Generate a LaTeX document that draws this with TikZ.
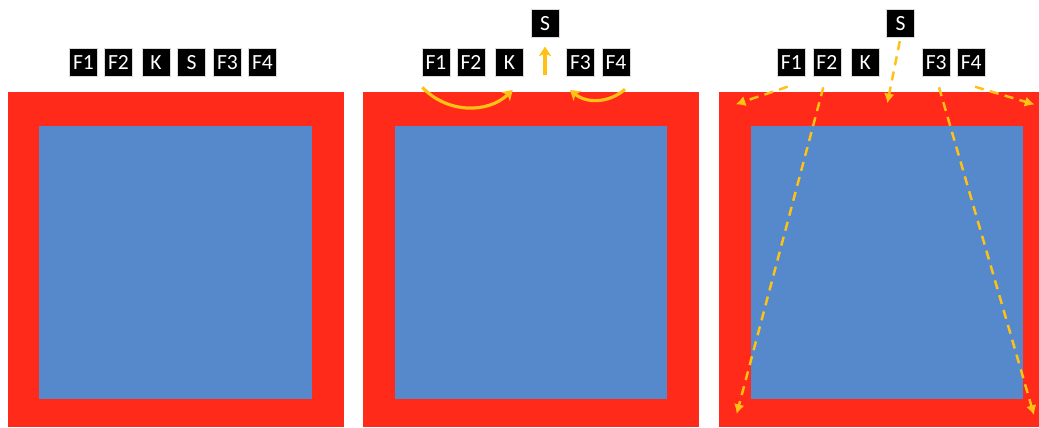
\documentclass[tikz,border=0pt]{standalone}
\usepackage{fontspec}
\setmainfont{Carlito}
\usetikzlibrary{arrows.meta}
\usetikzlibrary{positioning}
\definecolor{wallred}{RGB}{255,42,26}
\definecolor{roomblue}{RGB}{85,137,204}
\definecolor{moveyellow}{RGB}{255,194,20}

\begin{document}
\begin{tikzpicture}[x=0.02cm,y=0.02cm]
	\tikzstyle{key}=[fill=black,draw=black!15,line width=0.3pt,text=white,minimum size=0.56cm,inner sep=0pt,font=\fontsize{12.3}{14}\selectfont]
	\tikzstyle{wall}=[fill=wallred]
	\tikzstyle{room}=[fill=roomblue]
	\tikzstyle{move}=[draw,moveyellow,line width=1.8pt,-{Stealth[length=5.5pt,width=7pt,inset=1.5pt]}]
	\tikzstyle{fly}=[draw,moveyellow,line width=1.4pt,dash pattern=on 5.2pt off 3.6pt,-{Latex[length=5.5pt,width=6pt]}]
	\useasboundingbox (0,0) rectangle (1039,427);
	\clip (0,0) rectangle (1039,427);

	\path[wall] (8,0) rectangle (344,335);
	\path[room] (39,28) rectangle (312,301);
	\path[wall] (363,0) rectangle (699,335);
	\path[room] (395,28) rectangle (667,301);
	\path[wall] (719,0) rectangle (1055,335);
	\path[room] (751,28) rectangle (1023,301);

	\node[key] (a1) at (83.5,364.5) {F1};
	\node[key] (a2) at (118.5,364.5) {F2};
	\node[key] (ak) at (156,364.5) {K};
	\node[key] (as) at (191.5,364.5) {S};
	\node[key] (a3) at (227.5,364.5) {F3};
	\node[key] (a4) at (262.5,364.5) {F4};

	\node[key] (b1) at (436,364.5) {F1};
	\node[key] (b2) at (471,364.5) {F2};
	\node[key] (bk) at (509.5,364.5) {K};
	\node[key] (bs) at (545,403.5) {S};
	\node[key] (b3) at (580.5,364.5) {F3};
	\node[key] (b4) at (616,364.5) {F4};

	\node[key] (c1) at (791.3,364.5) {F1};
	\node[key] (c2) at (826.8,364.5) {F2};
	\node[key] (ck) at (865.3,364.5) {K};
	\node[key] (cs) at (900.5,403.5) {S};
	\node[key] (c3) at (936.2,364.5) {F3};
	\node[key] (c4) at (971.2,364.5) {F4};

	\coordinate (b1out) at (422.3,339.7);
	\coordinate (bkin) at (512.7,337);
	\coordinate (b4out) at (625,337.7);
	\coordinate (b3in) at (570,337);
	\coordinate (bsout) at (545,352);

	\draw[move] (b1out) to[bend right=45] (bkin);
	\draw[move] (b4out) to[bend left=40] (b3in);
	\draw[move,shorten >=5pt] (bsout) -- (bs);

	\coordinate (c1out) at (787.7,340.3);
	\coordinate (c1in) at (735.7,322.7);
	\coordinate (c2out) at (823.3,339.7);
	\coordinate (c2in) at (736.7,13);
	\coordinate (csin) at (887.3,323.7);
	\coordinate (c3out) at (939,339.7);
	\coordinate (c3in) at (1034,12);
	\coordinate (c4out) at (975,340.3);
	\coordinate (c4in) at (1034.5,322.5);

	\draw[fly] (c1out) -- (c1in);
	\draw[fly] (c2out) -- (c2in);
	\draw[fly,shorten <=2pt] (cs.south) -- (csin);
	\draw[fly] (c3out) -- (c3in);
	\draw[fly] (c4out) -- (c4in);
\end{tikzpicture}
\end{document}
